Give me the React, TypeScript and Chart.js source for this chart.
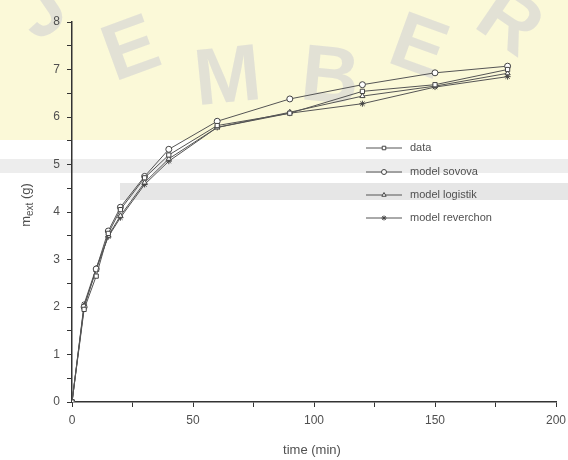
import React, { useEffect, useRef } from "react";
import { Chart, registerables } from "chart.js";
import { drawPoint } from "chart.js/helpers";

Chart.register(...registerables);

const time = [0, 5, 10, 15, 20, 30, 40, 60, 90, 120, 150, 180];
const dataVals = [0, 1.95, 2.65, 3.55, 4.05, 4.72, 5.2, 5.82, 6.08, 6.54, 6.68, 7.0];
const sovova = [0, 2.0, 2.8, 3.6, 4.1, 4.75, 5.32, 5.91, 6.38, 6.68, 6.93, 7.07];
const logistik = [0, 2.02, 2.78, 3.5, 3.92, 4.62, 5.12, 5.78, 6.1, 6.44, 6.65, 6.92];
const reverchon = [0, 2.06, 2.82, 3.48, 3.88, 4.58, 5.07, 5.78, 6.08, 6.28, 6.63, 6.85];
const seriesNames = ["data", "model sovova", "model logistik", "model reverchon"];
const pointStyles = ["rect", "circle", "triangle", "star"];
const xMajorTicks = [0, 50, 100, 150, 200];
const yMajorTicks = [0, 1, 2, 3, 4, 5, 6, 7, 8];

const FONT = "'Liberation Sans', Arial, sans-serif";
const TEXT = "#505050";
const AXIS = "#333333";

const watermark = {
  id: "watermark",
  beforeDraw(chart: any) {
    const ctx = chart.ctx;
    const w = chart.width;
    ctx.save();
    ctx.fillStyle = "#ffffff";
    ctx.fillRect(0, 0, w, chart.height);
    ctx.fillStyle = "#fbf9d8";
    ctx.fillRect(0, 0, w, 140);
    ctx.fillStyle = "#ededed";
    ctx.fillRect(0, 159, w, 14);
    ctx.fillStyle = "#e6e6e6";
    ctx.fillRect(120, 183, w - 120, 17);
    ctx.fillStyle = "rgba(215,215,212,0.7)";
    ctx.font = `bold 80px ${FONT}`;
    ctx.textAlign = "center";
    ctx.textBaseline = "middle";
    const letters: [string, number, number, number][] = [
      ["J", 42, 12, -0.6],
      ["E", 132, 52, -0.35],
      ["M", 228, 80, -0.1],
      ["B", 330, 80, 0.1],
      ["E", 418, 50, 0.35],
      ["R", 508, 24, 0.6],
    ];
    for (const [t, x, y, r] of letters) {
      ctx.save();
      ctx.translate(x, y);
      ctx.rotate(r);
      ctx.fillText(t, 0, 0);
      ctx.restore();
    }
    ctx.restore();
  },
};

const overlay = {
  id: "overlay",
  afterDraw(chart: any) {
    const ctx = chart.ctx;
    ctx.save();
    ctx.translate(25, 205);
    ctx.rotate(-Math.PI / 2);
    ctx.fillStyle = TEXT;
    ctx.textBaseline = "alphabetic";
    ctx.font = `13px ${FONT}`;
    const mW = ctx.measureText("m").width;
    ctx.font = `10px ${FONT}`;
    const eW = ctx.measureText("ext").width;
    ctx.font = `13px ${FONT}`;
    const gW = ctx.measureText(" (g)").width;
    const total = mW + eW + gW;
    const x0 = -total / 2;
    ctx.textAlign = "left";
    ctx.fillText("m", x0, 5);
    ctx.font = `10px ${FONT}`;
    ctx.fillText("ext", x0 + mW, 8);
    ctx.font = `13px ${FONT}`;
    ctx.fillText(" (g)", x0 + mW + eW, 5);
    ctx.restore();

    ctx.save();
    ctx.fillStyle = TEXT;
    ctx.font = `13px ${FONT}`;
    ctx.textAlign = "center";
    ctx.textBaseline = "middle";
    ctx.fillText("time (min)", 312, 450);
    ctx.restore();

    ctx.save();
    const rows = [148, 172, 195, 218];
    chart.data.datasets.forEach((ds: any, i: number) => {
      const y = rows[i];
      ctx.strokeStyle = "#555";
      ctx.lineWidth = 1;
      ctx.beginPath();
      ctx.moveTo(366, y);
      ctx.lineTo(402, y);
      ctx.stroke();
      ctx.fillStyle = "#ffffff";
      ctx.strokeStyle = "#444";
      drawPoint(ctx, { pointStyle: ds.pointStyle, radius: 2.5, borderWidth: 1, rotation: 0 }, 384, y);
      ctx.fillStyle = TEXT;
      ctx.font = `11px ${FONT}`;
      ctx.textAlign = "left";
      ctx.textBaseline = "middle";
      ctx.fillText(ds.label, 410, y);
    });
    ctx.restore();
  },
};

export default function App() {
  const ref = useRef<HTMLCanvasElement>(null);
  useEffect(() => {
    const series = [dataVals, sovova, logistik, reverchon];
    const chart = new Chart(ref.current!, {
      type: "line",
      data: {
        datasets: series.map((vals, i) => ({
          label: seriesNames[i],
          data: time.map((t, j) => ({ x: t, y: vals[j] })),
          borderColor: "#555",
          borderWidth: 1,
          pointStyle: pointStyles[i] as any,
          pointRadius: 3,
          pointBorderColor: "#444",
          pointBackgroundColor: "#ffffff",
          pointBorderWidth: 1,
          fill: false,
          tension: 0,
        })),
      },
      options: {
        animation: false,
        responsive: true,
        maintainAspectRatio: false,
        layout: { padding: { top: 22, right: 12, left: 0, bottom: 0 } },
        plugins: { legend: { display: false }, tooltip: { enabled: false } },
        scales: {
          x: {
            type: "linear",
            min: 0,
            max: 200,
            afterFit: (s: any) => {
              s.height = 58;
              s.paddingRight = 0;
              s.paddingLeft = 0;
            },
            afterBuildTicks: (s: any) => {
              const t = [];
              for (let v = 0; v <= 200; v += 25) t.push({ value: v });
              s.ticks = t;
            },
            ticks: {
              color: TEXT,
              font: { family: FONT, size: 12 },
              padding: 6,
              maxRotation: 0,
              autoSkip: false,
              callback: (v: any) => (xMajorTicks.includes(Number(v)) ? String(v) : ""),
            },
            grid: { drawOnChartArea: false, drawTicks: true, tickLength: 5, color: AXIS },
            border: { color: AXIS, width: 1.5 },
          },
          y: {
            type: "linear",
            min: 0,
            max: 8,
            afterFit: (s: any) => {
              s.width = 72;
              s.paddingTop = 0;
              s.paddingBottom = 0;
            },
            afterBuildTicks: (s: any) => {
              const t = [];
              for (let v = 0; v <= 8; v += 0.5) t.push({ value: v });
              s.ticks = t;
            },
            ticks: {
              color: TEXT,
              font: { family: FONT, size: 12 },
              padding: 7,
              autoSkip: false,
              callback: (v: any) => (yMajorTicks.includes(Number(v)) ? String(v) : ""),
            },
            grid: { drawOnChartArea: false, drawTicks: true, tickLength: 5, color: AXIS },
            border: { color: AXIS, width: 1.5 },
          },
        },
      },
      plugins: [watermark, overlay],
    });
    return () => chart.destroy();
  }, []);
  return (
    <div style={{ position: "fixed", left: 0, top: 0, width: 568, height: 460, background: "#fff" }}>
      <canvas ref={ref} />
    </div>
  );
}
